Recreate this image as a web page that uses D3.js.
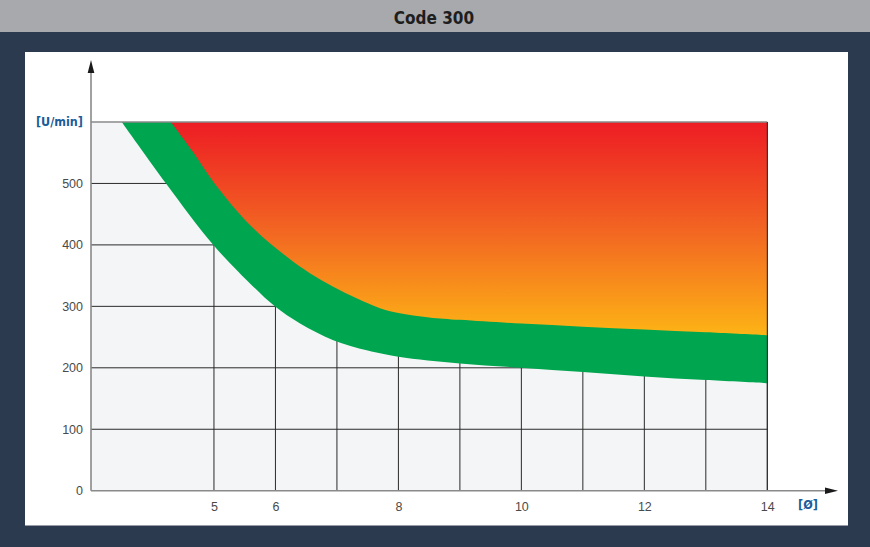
<!DOCTYPE html>
<html>
<head>
<meta charset="utf-8">
<script src="https://cdn.jsdelivr.net/npm/d3@7"></script>
<style>
  html, body { margin: 0; padding: 0; background: #2c3a4f; }
  svg { display: block; }
</style>
</head>
<body>
<svg id="chart" width="870" height="547"></svg>
<script>
// ---- data ----
const title = "Code 300";
const yLabel = "[U/min]";
const xLabel = "[Ø]";
const xTicks = [5, 6, 8, 10, 12, 14];
const yTicks = [0, 100, 200, 300, 400, 500];
const gridX = [5, 6, 7, 8, 9, 10, 11, 12, 13, 14];
const gridY = [100, 200, 300, 400, 500];
// lower edge of green band (diameter, rpm)
const lowerX = [3.50, 4.22, 4.98, 5.64, 5.99, 6.40, 6.94, 7.50, 8.00, 9.00, 10.0, 11.0, 12.0, 13.0, 14.0];
const lowerY = [600, 500, 401, 332, 300, 272, 245, 228, 218, 207, 200, 193, 186, 180, 175];
// upper edge of green band (= lower edge of red zone)
const upperX = [4.30, 4.66, 5.01, 5.59, 6.18, 6.56, 6.94, 7.32, 7.70, 8.00, 8.50, 9.00, 10.0, 11.0, 12.0, 13.0, 14.0];
const upperY = [600, 551, 500, 432, 381, 354, 332, 313, 297, 289, 282, 278, 272, 267, 262.5, 257.8, 253];

const svg = d3.select("#chart");
const W = 870, H = 547;

// background frame
svg.append("rect").attr("x", 0).attr("y", 0).attr("width", W).attr("height", H).attr("fill", "#2c3a4f");
svg.append("rect").attr("x", 0).attr("y", 0).attr("width", W).attr("height", 32).attr("fill", "#a7a9ac");
svg.append("rect").attr("x", 25).attr("y", 52).attr("width", 823).attr("height", 473.5).attr("fill", "#ffffff");

svg.append("text").attr("x", 434).attr("y", 23.5).attr("text-anchor", "middle")
  .attr("font-family", "'DejaVu Sans Condensed', 'Liberation Sans Narrow', sans-serif")
  .attr("font-weight", "bold").attr("font-size", 17).attr("fill", "#1e1e1e").text(title);

const x = d3.scaleLinear().domain([3, 14]).range([91, 767.3]);
const y = d3.scaleLinear().domain([0, 600]).range([490.7, 122]);

const defs = svg.append("defs");
const grad = defs.append("linearGradient").attr("id", "heat")
  .attr("gradientUnits", "userSpaceOnUse")
  .attr("x1", 0).attr("x2", 0).attr("y1", y(600)).attr("y2", y(250));
grad.append("stop").attr("offset", 0).attr("stop-color", "#ed1c24");
grad.append("stop").attr("offset", 0.5).attr("stop-color", "#f26522");
grad.append("stop").attr("offset", 1).attr("stop-color", "#fdb515");

// plot background
svg.append("rect").attr("x", x(3)).attr("y", y(600))
  .attr("width", x(14) - x(3)).attr("height", y(0) - y(600)).attr("fill", "#f4f5f7");

// grid
const g = svg.append("g");
g.selectAll(".gx").data(gridX).join("line")
  .attr("x1", d => x(d)).attr("x2", d => x(d)).attr("y1", y(0)).attr("y2", y(600))
  .attr("stroke", "#2a2a2a").attr("stroke-width", 1);
g.selectAll(".gy").data(gridY).join("line")
  .attr("x1", x(3)).attr("x2", x(14)).attr("y1", d => y(d)).attr("y2", d => y(d))
  .attr("stroke", "#2a2a2a").attr("stroke-width", 1);

const lower = lowerX.map((v, i) => ({x: v, y: lowerY[i]}));
const upper = upperX.map((v, i) => ({x: v, y: upperY[i]}));

const area = d3.area().curve(d3.curveCatmullRom.alpha(0.5))
  .x(d => x(d.x)).y0(y(600)).y1(d => y(d.y));

svg.append("path").datum(lower).attr("d", area).attr("fill", "#00a54f");
svg.append("path").datum(upper).attr("d", area).attr("fill", "url(#heat)");

// plot border top and right
svg.append("line").attr("x1", x(3)).attr("x2", x(14)).attr("y1", y(600)).attr("y2", y(600))
  .attr("stroke", "#8a8a8a").attr("stroke-width", 1.5);
svg.append("line").attr("x1", x(14)).attr("x2", x(14)).attr("y1", y(600)).attr("y2", y(0))
  .attr("stroke", "#2a2a2a").attr("stroke-width", 1);

// axes lines with arrows
svg.append("line").attr("x1", x(3)).attr("x2", x(3)).attr("y1", y(0)).attr("y2", 70)
  .attr("stroke", "#8a8a8a").attr("stroke-width", 1.6);
svg.append("path").attr("d", `M${x(3)},60 L${x(3) - 3.3},73 L${x(3) + 3.3},73 Z`).attr("fill", "#1a1a1a");
svg.append("line").attr("x1", x(3)).attr("x2", 827).attr("y1", y(0)).attr("y2", y(0))
  .attr("stroke", "#8a8a8a").attr("stroke-width", 1.6);
svg.append("path").attr("d", `M838,${y(0)} L825,${y(0) - 3.3} L825,${y(0) + 3.3} Z`).attr("fill", "#1a1a1a");

// tick labels via d3 axes
const yAxis = svg.append("g").attr("transform", `translate(${x(3)},0)`)
  .call(d3.axisLeft(y).tickValues(yTicks).tickSize(0).tickPadding(8));
const xAxis = svg.append("g").attr("transform", `translate(0,${y(0)})`)
  .call(d3.axisBottom(x).tickValues(xTicks).tickSize(0).tickPadding(11));
[yAxis, xAxis].forEach(a => {
  a.select(".domain").remove();
  a.selectAll("text").attr("font-family", "'Liberation Sans', Arial, sans-serif")
    .attr("font-size", 12.5).attr("fill", "#4a4a4a");
});

svg.append("text").attr("x", 83).attr("y", y(600)).attr("dy", "0.35em").attr("text-anchor", "end")
  .attr("font-family", "'DejaVu Sans Condensed', 'Liberation Sans Narrow', sans-serif")
  .attr("font-weight", "bold").attr("font-size", 12.5).attr("fill", "#1b5c9a").text(yLabel);
svg.append("text").attr("x", 808).attr("y", 505).attr("dy", "0.35em").attr("text-anchor", "middle")
  .attr("font-family", "'DejaVu Sans Condensed', 'Liberation Sans Narrow', sans-serif")
  .attr("font-weight", "bold").attr("font-size", 12.5).attr("fill", "#1b5c9a").text(xLabel);
</script>
</body>
</html>
